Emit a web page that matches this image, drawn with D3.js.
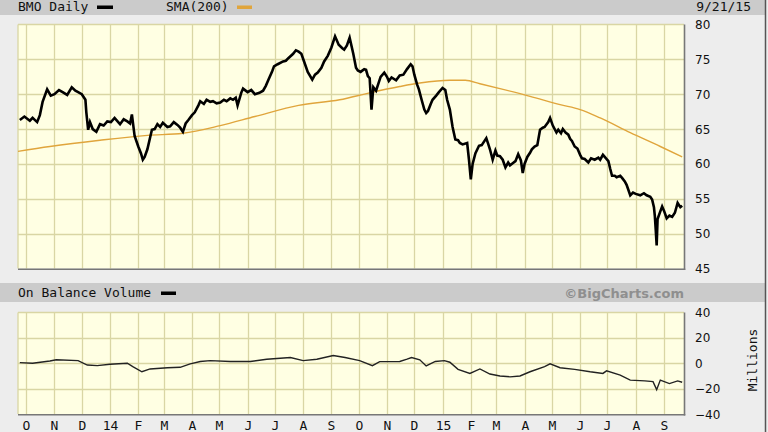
<!DOCTYPE html>
<html><head><meta charset="utf-8">
<script src="https://cdn.jsdelivr.net/npm/d3@7"></script>
<style>body{margin:0;background:#ececec;overflow:hidden} svg{display:block}</style>
</head><body><svg id="c" width="768" height="432"></svg>
<script>
// ---------- DATA ----------
const priceDates = ["2013-09-24","2013-09-29","2013-10-05","2013-10-08","2013-10-13","2013-10-16","2013-10-19","2013-10-24","2013-10-28","2013-11-01","2013-11-06","2013-11-10","2013-11-15","2013-11-20","2013-11-24","2013-11-27","2013-12-01","2013-12-05","2013-12-06","2013-12-08","2013-12-10","2013-12-13","2013-12-17","2013-12-21","2013-12-25","2013-12-29",
"2014-01-02","2014-01-06","2014-01-10","2014-01-12","2014-01-16","2014-01-20","2014-01-23","2014-01-25","2014-01-28","2014-02-01","2014-02-04","2014-02-06","2014-02-08","2014-02-11","2014-02-14","2014-02-16","2014-02-19","2014-02-22","2014-02-25","2014-02-28","2014-03-05","2014-03-08","2014-03-12","2014-03-16","2014-03-19","2014-03-22","2014-03-25","2014-03-28","2014-04-01","2014-04-04","2014-04-08","2014-04-10","2014-04-14","2014-04-17","2014-04-21","2014-04-24","2014-04-28","2014-05-02","2014-05-06","2014-05-09","2014-05-13","2014-05-16","2014-05-19","2014-05-21","2014-05-25","2014-05-27","2014-06-01","2014-06-05","2014-06-09","2014-06-14","2014-06-18","2014-06-21","2014-06-24","2014-06-28","2014-06-30","2014-07-04","2014-07-10","2014-07-13","2014-07-16","2014-07-21","2014-07-24","2014-07-27","2014-07-30","2014-08-02","2014-08-06","2014-08-11","2014-08-14","2014-08-17","2014-08-21","2014-08-24","2014-08-28","2014-09-01","2014-09-05","2014-09-09","2014-09-13","2014-09-15","2014-09-18","2014-09-21","2014-09-25","2014-09-28","2014-09-30","2014-10-03","2014-10-07","2014-10-09","2014-10-11","2014-10-13","2014-10-15","2014-10-17","2014-10-20","2014-10-22","2014-10-25","2014-10-29","2014-11-01","2014-11-03","2014-11-06","2014-11-11","2014-11-15","2014-11-19","2014-11-23","2014-11-27","2014-11-29","2014-12-01","2014-12-04","2014-12-06","2014-12-09","2014-12-12","2014-12-14","2014-12-16","2014-12-19","2014-12-21","2014-12-25","2014-12-28",
"2015-01-01","2015-01-04","2015-01-06","2015-01-09","2015-01-12","2015-01-15","2015-01-18","2015-01-20","2015-01-23","2015-01-28","2015-01-30","2015-02-01","2015-02-03","2015-02-06","2015-02-10","2015-02-13","2015-02-18","2015-02-20","2015-02-22","2015-02-25","2015-02-28","2015-03-02","2015-03-05","2015-03-08","2015-03-11","2015-03-14","2015-03-16","2015-03-19","2015-03-22","2015-03-25","2015-03-28","2015-03-30","2015-04-01","2015-04-04","2015-04-07","2015-04-09","2015-04-12","2015-04-15","2015-04-18","2015-04-21","2015-04-23","2015-04-27","2015-04-29","2015-05-02","2015-05-06","2015-05-08","2015-05-11","2015-05-13","2015-05-16","2015-05-19","2015-05-21","2015-05-23","2015-05-26","2015-05-29","2015-06-01","2015-06-03","2015-06-06","2015-06-10","2015-06-13","2015-06-17","2015-06-21","2015-06-23","2015-06-26","2015-06-28","2015-07-02","2015-07-04","2015-07-06","2015-07-09","2015-07-11","2015-07-15","2015-07-17","2015-07-20","2015-07-22","2015-07-26","2015-07-29","2015-08-01","2015-08-06","2015-08-10","2015-08-13","2015-08-17","2015-08-19","2015-08-21","2015-08-22","2015-08-23","2015-08-24","2015-08-25","2015-08-28","2015-08-30","2015-09-01","2015-09-04","2015-09-07","2015-09-10","2015-09-13","2015-09-16","2015-09-19","2015-09-21"];
const priceValues = [66.3,66.8,66.2,66.6,66.0,67.0,68.9,70.7,69.8,70.0,70.6,70.3,69.9,71.0,70.5,70.3,70.0,69.2,67.4,64.9,66.0,65.0,64.6,65.7,65.5,66.1,
66.0,66.6,66.0,65.7,66.4,66.1,65.8,67.1,64.0,62.5,61.5,60.6,61.0,62.1,63.8,64.9,65.0,65.7,65.3,65.9,65.3,65.4,66.0,65.6,65.2,64.6,65.8,66.3,67.0,67.4,68.4,69.0,68.6,69.2,68.9,69.0,68.7,68.8,69.2,69.0,69.4,69.2,69.5,68.4,70.2,70.8,70.3,70.6,70.0,70.2,70.5,71.2,72.1,73.3,74.0,74.3,74.7,74.8,75.2,75.8,76.3,76.1,75.8,74.7,73.2,72.1,72.8,73.1,73.8,74.7,75.5,76.7,78.3,77.1,76.6,76.4,77.0,78.1,75.8,73.8,73.4,73.2,73.6,73.5,72.6,72.3,67.8,71.0,70.5,71.3,72.5,73.1,72.5,71.9,72.4,72.0,72.7,72.8,73.6,74.3,74.0,72.8,71.4,70.7,69.2,67.8,67.3,67.6,68.6,69.2,69.8,70.3,
70.9,70.6,69.2,67.8,65.3,63.5,63.4,63.0,62.8,63.0,60.6,57.8,60.0,61.5,62.6,62.7,63.7,62.9,62.1,60.6,61.9,61.2,61.1,60.6,59.5,60.2,59.8,60.1,60.4,61.4,60.5,58.7,60.0,61.0,61.6,62.1,62.5,62.7,64.9,65.2,65.3,66.0,66.6,65.5,64.5,64.9,64.4,65.0,64.5,64.2,63.6,63.3,62.5,62.2,61.3,60.8,60.7,60.2,60.8,60.6,60.9,60.6,61.3,61.0,60.4,59.3,58.3,58.3,58.1,58.3,58.0,57.5,57.0,55.5,55.9,55.7,55.5,55.8,55.5,55.3,54.9,53.8,52.5,50.5,48.3,52.1,53.2,53.9,53.3,52.2,52.6,52.4,53.0,54.4,53.8,54.0];

const smaDates = ["2013-09-22","2013-10-27","2013-12-21","2014-02-11","2014-03-22","2014-05-02","2014-06-09","2014-07-27","2014-09-10","2014-10-13","2014-11-15","2014-12-07","2015-01-09","2015-01-26","2015-02-11","2015-03-05","2015-04-07","2015-05-10","2015-06-01","2015-06-23","2015-07-26","2015-08-28","2015-09-21"];
const smaValues = [61.8,62.5,63.4,64.1,64.4,65.5,66.8,68.4,69.2,70.2,71.1,71.6,72.0,72.0,71.5,70.8,69.7,68.5,67.8,66.6,64.5,62.5,61.0];

const obvDates = ["2013-09-24","2013-10-08","2013-10-27","2013-11-03","2013-11-27","2013-12-07","2013-12-18","2014-01-01","2014-01-20","2014-01-26","2014-02-05","2014-02-14","2014-03-05","2014-03-19","2014-03-30","2014-04-10","2014-04-21","2014-05-13","2014-06-04","2014-06-22","2014-07-18","2014-08-01","2014-08-16","2014-09-03","2014-09-16","2014-10-02","2014-10-16","2014-10-24","2014-11-15","2014-11-23","2014-11-28","2014-12-07","2014-12-14","2014-12-24","2015-01-03","2015-01-09","2015-01-18","2015-01-31","2015-02-11","2015-02-22","2015-03-05","2015-03-16","2015-03-27","2015-04-07","2015-04-23","2015-04-29","2015-05-10","2015-05-26","2015-06-12","2015-06-26","2015-06-30","2015-07-15","2015-07-26","2015-08-11","2015-08-20","2015-08-24","2015-08-28","2015-09-07","2015-09-16","2015-09-21"];
const obvValues = [0.5,0,1.8,2.7,2.1,-1.4,-1.9,-0.8,0,-2.7,-6.7,-4.5,-3.5,-3.2,-0.5,1.4,2.1,1.4,1.4,3.2,4.5,2.1,3.2,6.1,4.5,2.1,-1.9,1.3,1.4,3.2,4.5,2.7,-2.1,1.4,2.1,0.8,-4.8,-8,-4.5,-8.5,-10,-10.7,-10,-6.7,-2.7,-0.5,-3.5,-4.8,-6.7,-8,-6,-9.3,-13.3,-13.9,-14.5,-20.8,-13.3,-16,-13.9,-15];

const monthTickDates = ["2013-10-01","2013-11-01","2013-12-01","2014-01-01","2014-02-01","2014-03-01","2014-04-01","2014-05-01","2014-06-01","2014-07-01","2014-08-01","2014-09-01","2014-10-01","2014-11-01","2014-12-01","2015-01-01","2015-02-01","2015-03-01","2015-04-01","2015-05-01","2015-06-01","2015-07-01","2015-08-01","2015-09-01"];
const monthTickLabels = ["O","N","D","14","F","M","A","M","J","J","A","S","O","N","D","15","F","M","A","M","J","J","A","S"];
const priceTicks = [80,75,70,65,60,55,50,45];
const obvTicks = [40,20,0,-20,-40];
const dateRange = ["2013-09-22","2015-09-23"];
const priceRange = [45,80];
const obvRange = [-40,40];

// ---------- DRAW ----------
const parse = d3.timeParse("%Y-%m-%d");
const svg = d3.select("#c");
const L = 18, R = 684;
const P = {top:24.5, bottom:268.5};
const O = {top:312.5, bottom:414};
const mono = "'DejaVu Sans Mono', monospace";
const sans = "'DejaVu Sans', Verdana, sans-serif";

const x = d3.scaleTime().domain(dateRange.map(parse)).range([L, R]);
const yP = d3.scaleLinear().domain(priceRange).range([P.bottom, P.top]);
const yO = d3.scaleLinear().domain(obvRange).range([O.bottom, O.top]);

// background & bands
svg.append("rect").attr("width",768).attr("height",432).attr("fill","#ededed");
svg.append("rect").attr("x",0).attr("y",0).attr("width",766).attr("height",15).attr("fill","#cbcbcb");
svg.append("rect").attr("x",0).attr("y",283).attr("width",766).attr("height",19).attr("fill","#cbcbcb");
svg.append("line").attr("x1",765.5).attr("x2",765.5).attr("y1",0).attr("y2",432).attr("stroke","#555").attr("stroke-width",1.5);

function panel(yScale, top, bottom, ticks){
  const g = svg.append("g");
  g.append("rect").attr("x",L).attr("y",top).attr("width",R-L).attr("height",bottom-top).attr("fill","#ffffe3");
  g.selectAll(".vg").data(monthTickDates.map(parse)).join("line")
    .attr("x1",d=>Math.round(x(d))+0.5).attr("x2",d=>Math.round(x(d))+0.5)
    .attr("y1",top).attr("y2",bottom).attr("stroke","#d9d6a4").attr("stroke-width",1.3);
  g.selectAll(".hg").data(ticks.slice(1,-1)).join("line")
    .attr("x1",L).attr("x2",R).attr("y1",d=>Math.round(yScale(d))+0.5).attr("y2",d=>Math.round(yScale(d))+0.5)
    .attr("stroke","#d9d6a4").attr("stroke-width",1.3);
  g.append("line").attr("x1",L).attr("x2",R).attr("y1",top).attr("y2",top).attr("stroke","#d9d6a4").attr("stroke-width",1.3);
  g.append("line").attr("x1",L).attr("x2",L).attr("y1",top).attr("y2",bottom).attr("stroke","#d9d6a4").attr("stroke-width",1.3);
  g.append("line").attr("x1",R+0.5).attr("x2",R+0.5).attr("y1",top).attr("y2",bottom+1.5).attr("stroke","#777").attr("stroke-width",1.6);
  g.append("line").attr("x1",L).attr("x2",R+1.3).attr("y1",bottom+0.8).attr("y2",bottom+0.8).attr("stroke","#777").attr("stroke-width",1.6);
  g.selectAll(".tl").data(ticks).join("text")
    .attr("x",695).attr("y",d=>yScale(d)+4.5).text(d=>d<0?"\u2212"+Math.abs(d):d)
    .attr("font-family",sans).attr("font-size",12).attr("fill","#111");
  return g;
}
panel(yP, P.top, P.bottom, priceTicks);
panel(yO, O.top, O.bottom, obvTicks);

// series
const sma = smaDates.map((d,i)=>({d:parse(d),v:smaValues[i]}));
const price = priceDates.map((d,i)=>({d:parse(d),v:priceValues[i]}));
const obv = obvDates.map((d,i)=>({d:parse(d),v:obvValues[i]}));

svg.append("path").datum(sma).attr("fill","none").attr("stroke","#e0a53c").attr("stroke-width",1.4)
  .attr("d", d3.line().x(d=>x(d.d)).y(d=>yP(d.v)).curve(d3.curveMonotoneX));
svg.append("path").datum(price).attr("fill","none").attr("stroke","#000").attr("stroke-width",2.6)
  .attr("stroke-linejoin","miter").attr("d", d3.line().x(d=>x(d.d)).y(d=>yP(d.v)));
svg.append("path").datum(obv).attr("fill","none").attr("stroke","#222").attr("stroke-width",1.4)
  .attr("d", d3.line().x(d=>x(d.d)).y(d=>yO(d.v)));

// month labels
svg.selectAll(".ml").data(monthTickDates).join("text")
  .attr("x",(d)=>Math.round(x(parse(d)))+0.5).attr("y",430).attr("text-anchor","middle")
  .text((d,i)=>monthTickLabels[i]).attr("font-family",mono).attr("font-size",13).attr("fill","#111");

// header texts
svg.append("text").attr("x",18).attr("y",11).text("BMO Daily").attr("font-family",mono).attr("font-size",13).attr("fill","#111");
svg.append("rect").attr("x",97).attr("y",5.5).attr("width",16).attr("height",3.5).attr("fill","#000");
svg.append("text").attr("x",166).attr("y",11).text("SMA(200)").attr("font-family",mono).attr("font-size",13).attr("fill","#111");
svg.append("rect").attr("x",237).attr("y",5.5).attr("width",15).attr("height",3.5).attr("fill","#e0a53c");
svg.append("text").attr("x",751).attr("y",11).attr("text-anchor","end").text("9/21/15").attr("font-family",mono).attr("font-size",13).attr("fill","#111");

svg.append("text").attr("x",18).attr("y",297).text("On Balance Volume").attr("font-family",mono).attr("font-size",13).attr("fill","#111");
svg.append("rect").attr("x",161).attr("y",291.5).attr("width",15).attr("height",3.5).attr("fill","#000");
svg.append("text").attr("x",684).attr("y",297.5).attr("text-anchor","end").text("©BigCharts.com")
  .attr("font-family","'DejaVu Sans', Verdana, sans-serif").attr("font-weight","bold").attr("font-size",13).attr("fill","#8f8f8f");

svg.append("text").attr("transform","translate(757,360) rotate(-90)").attr("text-anchor","middle")
  .text("Millions").attr("font-family",mono).attr("font-size",13).attr("fill","#111");
</script></body></html>
